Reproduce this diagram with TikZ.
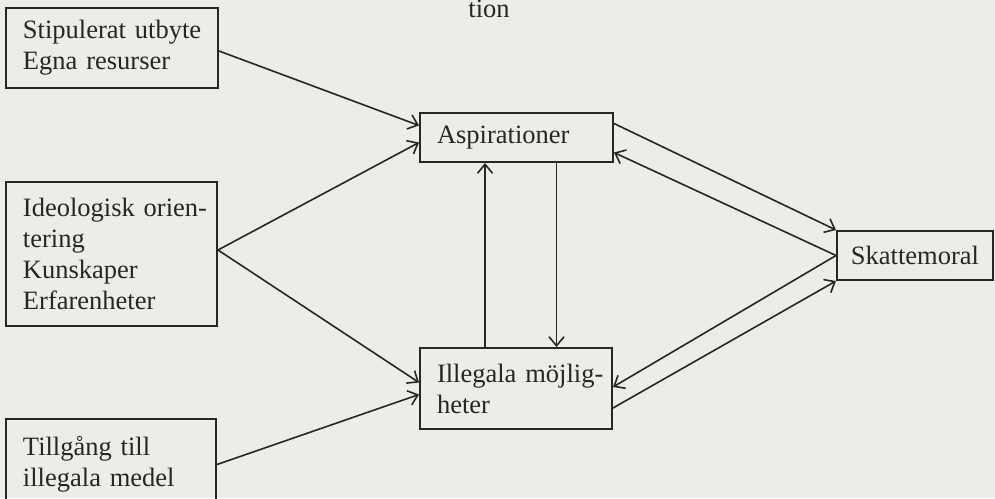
\documentclass[tikz,border=0pt]{standalone}
\usepackage{fontspec}
\setmainfont{Liberation Serif}
\usetikzlibrary{arrows.meta}
\definecolor{bg}{RGB}{236,237,231}
\definecolor{ink}{RGB}{38,38,38}
\begin{document}
\begin{tikzpicture}[x=1pt,y=-1pt,
  box/.style={draw=ink, line width=2pt, rectangle, inner xsep=17pt, inner ysep=0pt,
    align=left, font=\fontsize{26.5}{31}\selectfont, text=ink},
  arr/.style={draw=ink, line width=1.6pt, line cap=round,
    -{Straight Barb[length=9pt,width=15pt,line width=1.6pt]}}]
\useasboundingbox (0,0) rectangle (995,498);
\fill[bg] (0,0) rectangle (995,498);
\clip (0,0) rectangle (995,498);
\node[font=\fontsize{26.5}{31}\selectfont, text=ink, anchor=base, inner sep=0pt,
  text height=15pt, text depth=0pt] (tion) at (489,17) {tion};
\node[box, minimum width=212pt, minimum height=80pt, text width=178pt] (b1) at (112,48)
  {\mbox{Stipulerat utbyte}\\\mbox{Egna resurser}};
\node[box, minimum width=211pt, minimum height=144pt, text width=177pt] (b2) at (111.5,254)
  {\mbox{Ideologisk orien-}\\\mbox{tering}\\\mbox{Kunskaper}\\\mbox{Erfarenheter}};
\node[box, minimum width=210pt, minimum height=91pt, text width=176pt] (b3) at (111,464.5)
  {\mbox{Tillgång till}\\\mbox{illegala medel}};
\node[box, minimum width=193pt, minimum height=49pt, text width=159pt] (asp) at (516.5,137.5)
  {\mbox{Aspirationer}};
\node[box, minimum width=192pt, minimum height=81pt, text width=158pt] (ill) at (516,388.5)
  {\mbox{Illegala möjlig-}\\\mbox{heter}};
\node[box, inner xsep=13pt, align=center, minimum width=156pt, minimum height=49pt, text width=130pt] (skat) at (915,255.5)
  {\mbox{Skattemoral}};
% inputs
\draw[arr] ([yshift=-3pt]b1.east) -- ([yshift=12pt]asp.west);
\draw[arr] ([yshift=4pt]b2.east) -- ([yshift=-5pt]asp.west);
\draw[arr] ([yshift=4pt]b2.east) -- ([yshift=6pt]ill.west);
\draw[arr] (b3.east) -- ([yshift=-6pt]ill.west);
% vertical
\draw[arr] ([xshift=-31pt]ill.north) -- ([xshift=-31pt]ill.north |- asp.south);
\draw[arr] ([xshift=40pt]asp.south) -- ([xshift=40pt]asp.south |- ill.north);
% skattemoral
\draw[arr] ([yshift=14pt]asp.east) -- (skat.north west);
\draw[arr] (skat.west) -- ([yshift=-15pt]asp.east);
\draw[arr] (skat.west) -- ([yshift=1.5pt]ill.east);
\draw[arr] ([yshift=-19.5pt]ill.east) -- (skat.south west);
\end{tikzpicture}
\end{document}
